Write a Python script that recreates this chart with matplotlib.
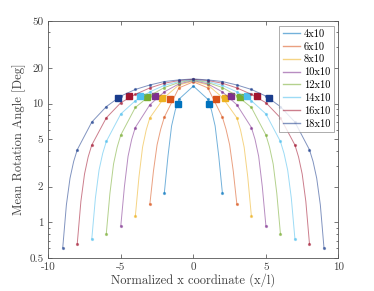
import numpy as np
import matplotlib
matplotlib.use("Agg")
import matplotlib.pyplot as plt

# series labels and half widths (x runs from -h to h)
labels = ["4x10", "6x10", "8x10", "10x10", "12x10", "14x10", "16x10", "18x10"]
half_width = [2, 3, 4, 5, 6, 7, 8, 9]

# mean rotation at |x| = 0, 1, ..., h
y_4x10 = [14.1, 10.9, 1.77]
y_6x10 = [15.3, 13.6, 7.7, 1.41]
y_8x10 = [15.5, 14.4, 11.3, 7.6, 1.12]
y_10x10 = [15.7, 14.7, 12.6, 9.8, 6.3, 0.93]
y_12x10 = [15.9, 15.1, 13.7, 11.7, 9.3, 5.45, 0.80]
y_14x10 = [16.0, 15.4, 14.3, 12.6, 10.6, 8.2, 4.8, 0.72]
y_16x10 = [16.1, 15.7, 14.9, 13.6, 12.0, 10.2, 7.6, 4.48, 0.66]
y_18x10 = [16.2, 15.9, 15.4, 14.4, 13.2, 11.6, 9.45, 7.0, 4.09, 0.61]
profiles = [y_4x10, y_6x10, y_8x10, y_10x10, y_12x10, y_14x10, y_16x10, y_18x10]

# values near the edge at |x| = h-0.75, h-0.5, h-0.25
edge_4x10 = [8.8, 6.5, 3.6]
edge_6x10 = [6.1, 4.5, 2.7]
edge_8x10 = [6.0, 4.3, 2.4]
edge_10x10 = [5.0, 3.6, 2.0]
edge_12x10 = [4.3, 3.1, 1.75]
edge_14x10 = [3.8, 2.75, 1.6]
edge_16x10 = [3.55, 2.55, 1.5]
edge_18x10 = [3.25, 2.35, 1.4]
edges = [edge_4x10, edge_6x10, edge_8x10, edge_10x10, edge_12x10, edge_14x10, edge_16x10, edge_18x10]

# square markers (mirrored on both sides)
square_x = [1.08, 1.59, 2.18, 2.62, 3.22, 3.68, 4.41, 5.21]
square_y = [10.0, 11.0, 11.2, 11.7, 11.5, 11.7, 11.7, 11.1]

colors = ["#0072bd", "#d95319", "#edb120", "#7e2f8e", "#77ac30", "#4dbeee", "#a2142f", "#1a3c8c"]

plt.rcParams["font.family"] = "serif"
plt.rcParams["font.serif"] = ["cmr10"]
plt.rcParams["mathtext.fontset"] = "cm"
plt.rcParams["axes.unicode_minus"] = False

fig = plt.figure(figsize=(3.74, 2.91), dpi=100)
ax = fig.add_axes([0.129, 0.114, 0.776, 0.814])

for i in range(len(labels)):
    h = half_width[i]
    prof = profiles[i]
    edge = edges[i]
    # half profile from center out to the edge
    hx = []
    hy = []
    for k in range(h):
        hx.append(k)
        hy.append(prof[k])
    hx += [h - 0.75, h - 0.5, h - 0.25, h]
    hy += edge + [prof[h]]
    xs = [-v for v in hx[::-1]] + hx[1:]
    ys = hy[::-1] + hy[1:]
    marks = [j for j, v in enumerate(xs) if float(v).is_integer()]
    ax.plot(xs, ys, color=colors[i], lw=0.7, alpha=0.55, label=labels[i],
            marker="o", ms=1.3, markevery=marks, mec=colors[i], mfc=colors[i])
    ax.plot([-square_x[i], square_x[i]], [square_y[i], square_y[i]], ls="none",
            marker="s", ms=4.5, color=colors[i])

ax.set_yscale("log")
ax.set_xlim(-10, 10)
ax.set_ylim(0.5, 50)
ax.set_xticks([-10, -5, 0, 5, 10])
ax.set_xticklabels(["-10", "-5", "0", "5", "10"])
ax.set_yticks([0.5, 1, 2, 5, 10, 20, 50])
ax.set_yticklabels(["0.5", "1", "2", "5", "10", "20", "50"])
ax.tick_params(which="both", direction="in", top=True, right=True, labelsize=8, colors="#404040")
ax.tick_params(which="major", length=3, width=0.5)
ax.tick_params(which="minor", length=1.6, width=0.5)
ax.tick_params(axis="x", which="minor", bottom=False, top=False)
for s in ax.spines.values():
    s.set_linewidth(0.6)
    s.set_color("#555555")

ax.set_xlabel("Normalized x coordinate (x/l)", fontsize=9, color="#404040", labelpad=1)
ax.set_ylabel("Mean Rotation Angle [Deg]", fontsize=9, color="#404040", labelpad=2)

leg = ax.legend(loc="upper right", fontsize=7.5, labelspacing=0.32, handlelength=1.6,
                handletextpad=0.4, borderpad=0.35, borderaxespad=0.45, fancybox=False)
leg.get_frame().set_edgecolor("#888888")
leg.get_frame().set_linewidth(0.6)
for ln in leg.get_lines():
    ln.set_marker("")
    ln.set_linewidth(1.0)

fig.savefig("out.png", dpi=100)
